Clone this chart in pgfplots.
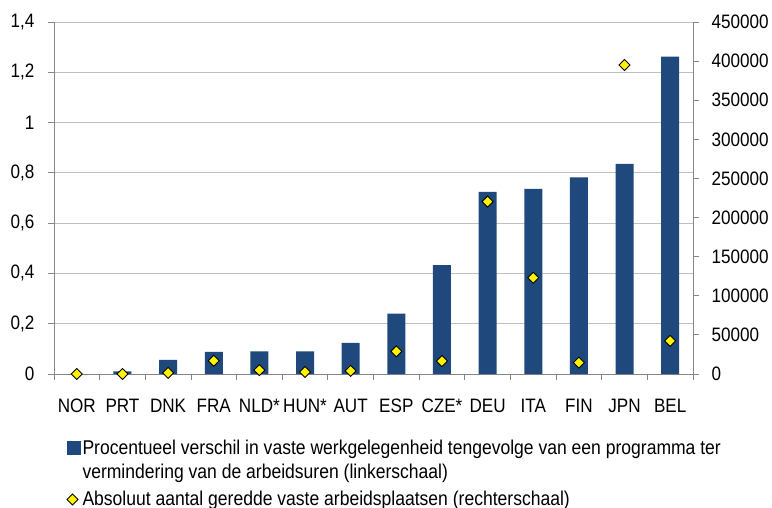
\documentclass[border=0pt]{standalone}
\usepackage{fontspec}
\setmainfont{Liberation Sans}[FakeStretch=0.88]
\usepackage{pgfplots}
\pgfplotsset{compat=1.18}
\definecolor{barblue}{RGB}{31,73,125}
\definecolor{gridgray}{RGB}{192,192,192}
\definecolor{axgray}{RGB}{134,134,134}
\definecolor{dyellow}{RGB}{255,242,0}
\tikzset{jobmark/.style={mark=square*, mark size=3.9bp,
    mark options={rotate=45, fill=dyellow, draw=black, line width=0.9bp}}}

% percentages (left scale) and absolute jobs (right scale)
\pgfplotstableread{
x  pct    jobs
0  0.000  0
1  0.010  0
2  0.056  1500
3  0.088  17000
4  0.090  5000
5  0.090  2500
6  0.124  4000
7  0.240  29000
8  0.433  16500
9  0.724  220500
10 0.736  123000
11 0.782  14500
12 0.836  395000
13 1.262  42300
}\datatable

\begin{document}
\fontsize{19.5}{23}\selectfont
\begin{tikzpicture}
\path[use as bounding box] (-54bp,-134bp) rectangle (718bp,374bp);
\pgfplotsset{
  every axis/.append style={
    scale only axis, width=639bp, height=352bp,
    xmin=-0.5, xmax=13.5,
    axis line style={axgray}, tick style={axgray, line width=0.8bp},
    tick align=outside,
    /pgf/number format/assume math mode=true,
    ticklabel style={font=\fontsize{19.5}{23}\selectfont},
  },
}
\begin{axis}[
  ymin=0, ymax=1.4, ytick distance=0.2,
  axis y line*=left, axis x line*=bottom,
  ymajorgrids, grid style={gridgray, line width=0.9bp},
  xtick={0,...,13},
  xticklabels={NOR,PRT,DNK,FRA,NLD*,HUN*,AUT,ESP,CZE*,DEU,ITA,FIN,JPN,BEL},
  major x tick style={draw=none},
  minor xtick={-0.5,0.5,...,13.5},
  minor tick length=6bp,
  major tick length=6bp,
  xticklabel style={yshift=-12bp},
  yticklabel style={xshift=-7bp, /pgf/number format/.cd, use comma, fixed},
  ybar, bar width=18bp,
  legend style={draw=none, fill=none, at={(0.0146,-0.176)}, anchor=north west,
    font=\fontsize{20}{24.5}\selectfont, row sep=5bp, column sep=0bp,
    cells={anchor=west, align=left}},
  legend cell align=left,
]
\addplot[fill=barblue, draw=none,
  legend image code/.code={\fill[barblue] (0bp,6bp) rectangle (14bp,20bp);}]
  table[x=x, y=pct] {\datatable};
\addlegendentry{Procentueel verschil in vaste werkgelegenheid tengevolge van een programma ter\\vermindering van de arbeidsuren (linkerschaal)}
\addlegendimage{legend image code/.code={\filldraw[fill=dyellow, draw=black, line width=0.9bp]
  (6bp,5.5bp) -- (11.5bp,0bp) -- (6bp,-5.5bp) -- (0.5bp,0bp) -- cycle;}}
\addlegendentry{Absoluut aantal geredde vaste arbeidsplaatsen (rechterschaal)}
\end{axis}
\begin{axis}[
  ymin=0, ymax=450000, ytick distance=50000,
  axis y line*=right, axis x line=none,
  scaled y ticks=false,
  major tick length=6bp,
  yticklabel style={xshift=6bp, /pgf/number format/.cd, 1000 sep={}, fixed},
]
\addplot[only marks, jobmark] table[x=x, y=jobs] {\datatable};
\end{axis}
\end{tikzpicture}
\end{document}
